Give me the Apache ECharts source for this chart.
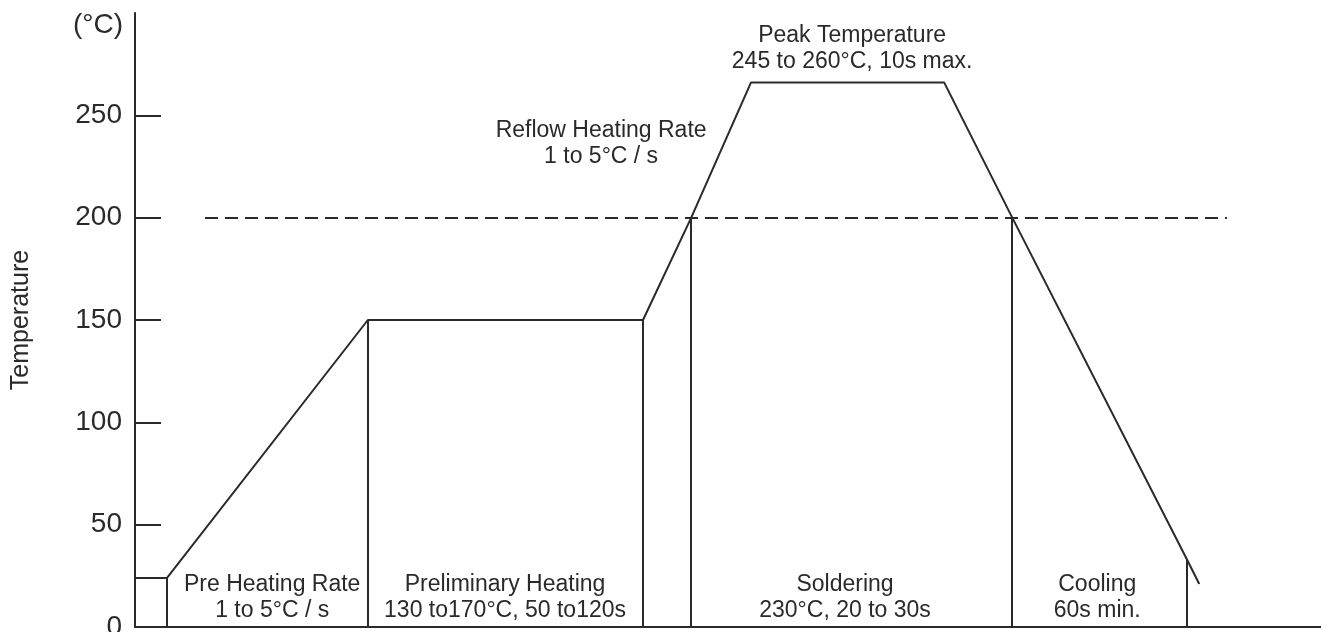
<!DOCTYPE html>
<html>
<head>
<meta charset="utf-8">
<style>
    html, body { margin: 0; padding: 0; background: #fff; }
    #chart { width: 1321px; height: 632px; }
</style>
<script src="https://cdn.jsdelivr.net/npm/echarts@6/dist/echarts.min.js"></script>
</head>
<body>
<div id="chart"></div>
<script>
    // reflow profile (time axis has no unit, just relative)
    var profileTime = [0, 8.1, 58.9, 128.5, 140.7, 155.8, 204.7, 221.9, 266.1, 269.2];
    var profileTemp = [24, 24, 150, 150, 200, 266, 266, 200, 33, 21];

    // vertical zone dividers
    var dividerTime = [8.1, 58.9, 128.5, 140.7, 221.9, 266.1];
    var dividerTop = [24, 150, 150, 200, 200, 33];

    // dashed 200°C line
    var limitTemp = 200;
    var limitFrom = 17.7;
    var limitTo = 276.2;

    var yTicks = [0, 50, 100, 150, 200, 250];

    // zone notes
    var noteTime = [34.7, 93.6, 179.6, 243.4, 117.9, 181.4];
    var noteTemp = [14.2, 14.2, 14.2, 14.2, 236, 282.5];
    var noteText = [
        'Pre Heating Rate\n1 to 5°C / s',
        'Preliminary Heating\n130 to170°C, 50 to120s',
        'Soldering\n230°C, 20 to 30s',
        'Cooling\n60s min.',
        'Reflow Heating Rate\n1 to 5°C / s',
        'Peak Temperature\n245 to 260°C, 10s max.'
    ];

    var font = '"Liberation Sans", Arial, sans-serif';
    var ink = '#2a2a2a';

    var profile = profileTime.map(function (t, i) {
        return [t, profileTemp[i]];
    });
    var dividers = dividerTime.map(function (t, i) {
        return [{coord: [t, 0]}, {coord: [t, dividerTop[i]]}];
    });
    var notes = noteTime.map(function (t, i) {
        return {value: [t, noteTemp[i]], text: noteText[i]};
    });

    var chart = echarts.init(document.getElementById('chart'));
    chart.setOption({
        animation: false,
        textStyle: {fontFamily: font},
        grid: {
            left: 135,
            right: 0,
            top: 13,
            bottom: 5,
            outerBoundsMode: 'none'
        },
        xAxis: {
            type: 'value',
            min: 0,
            max: 300,
            axisLine: {show: true, onZero: false, lineStyle: {color: ink, width: 2}},
            axisTick: {show: false},
            axisLabel: {show: false},
            splitLine: {show: false}
        },
        yAxis: {
            type: 'value',
            min: 0,
            max: 300,
            interval: 50,
            name: 'Temperature',
            nameLocation: 'middle',
            nameGap: 101,
            nameTextStyle: {fontSize: 25, color: ink, fontFamily: font},
            axisLine: {show: true, lineStyle: {color: ink, width: 2}},
            axisTick: {
                show: true,
                inside: true,
                length: 26,
                customValues: yTicks,
                lineStyle: {color: ink, width: 2}
            },
            axisLabel: {
                fontSize: 28,
                color: ink,
                margin: 13,
                customValues: yTicks,
                fontFamily: font
            },
            splitLine: {show: false}
        },
        series: [
            {
                type: 'line',
                data: profile,
                symbol: 'none',
                silent: true,
                lineStyle: {color: ink, width: 2},
                markLine: {
                    silent: true,
                    symbol: 'none',
                    label: {show: false},
                    lineStyle: {color: ink, width: 2, type: 'solid'},
                    data: dividers.concat([
                        [
                            {coord: [limitFrom, limitTemp], lineStyle: {type: [13, 7]}},
                            {coord: [limitTo, limitTemp]}
                        ]
                    ])
                }
            },
            {
                type: 'scatter',
                symbolSize: 0,
                silent: true,
                itemStyle: {opacity: 1},
                data: notes,
                label: {
                    show: true,
                    position: 'inside',
                    align: 'center',
                    verticalAlign: 'middle',
                    fontSize: 23,
                    lineHeight: 26,
                    color: ink,
                    fontFamily: font,
                    formatter: function (p) {
                        return p.data.text;
                    }
                }
            },
            {
                // unit note beside the top of the y axis
                type: 'scatter',
                symbolSize: 0,
                silent: true,
                itemStyle: {opacity: 1},
                data: [[0, 294]],
                label: {
                    show: true,
                    position: 'left',
                    distance: 12,
                    fontSize: 28,
                    color: ink,
                    fontFamily: font,
                    formatter: '(°C)'
                }
            }
        ]
    });
</script>
</body>
</html>
